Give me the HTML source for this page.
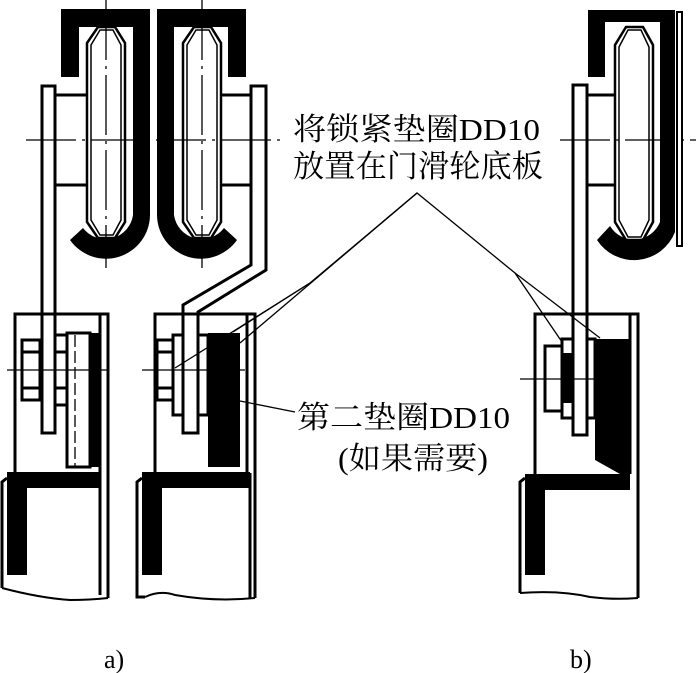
<!DOCTYPE html>
<html><head><meta charset="utf-8"><style>
html,body{margin:0;padding:0;background:#fff;}
svg{display:block;}
text{font-family:"Liberation Serif","Noto Serif CJK SC",serif;fill:#000;}
</style></head><body>
<svg width="696" height="673" viewBox="0 0 696 673" xmlns="http://www.w3.org/2000/svg">
<g fill="none" stroke="#000" stroke-width="3">
<!-- ===== Figure a) ===== -->
<path d="M61,9 H150 V215 A44,44 0 0 1 70,240 L83,228 A28,28 0 0 0 133,215 V27 H79 V77 H61 Z" fill="#000" stroke="none"/>
<path d="M157,9 H246 V77 H228 V27 H174 V215 A28,28 0 0 0 224,228 L237,240 A44,44 0 0 1 157,215 Z" fill="#000" stroke="none"/>
<path d="M87,43 L98,27 H115 L125,43 V222 L115,238 H98 L87,222 Z" stroke-width="2.5"/>
<path d="M91,45 L100,30 H113 L121,45 V220 L113,235 H100 L91,220 Z" stroke-width="1.5"/>
<path d="M183,43 L194,27 H211 L221,43 V222 L211,238 H194 L183,222 Z" stroke-width="2.5"/>
<path d="M187,45 L196,30 H209 L217,45 V220 L209,235 H196 L187,220 Z" stroke-width="1.5"/>
<rect x="42" y="86" width="13" height="347"/>
<path d="M251,86 H266 V270 L198,312 V433 H183 V305 L251,265 Z"/>
<line x1="55" y1="95" x2="87" y2="95"/><line x1="55" y1="185" x2="87" y2="185"/>
<line x1="221" y1="95" x2="251" y2="95"/><line x1="221" y1="185" x2="251" y2="185"/>
<path d="M15,473 V314 H108 V598"/><line x1="100" y1="314" x2="100" y2="595"/>
<rect x="67" y="333" width="23" height="134"/>
<rect x="90" y="333" width="10" height="134" fill="#000" stroke="none"/>
<rect x="22" y="340" width="18" height="60"/>
<line x1="22" y1="352" x2="40" y2="352"/><line x1="22" y1="388" x2="40" y2="388"/>
<rect x="55" y="335" width="12" height="70"/>
<line x1="55" y1="352" x2="67" y2="352"/><line x1="55" y1="388" x2="67" y2="388"/>
<path d="M7,472 H100 V488 H27 V575 H7 Z" fill="#000" stroke="none"/>
<path d="M7,478 L2,482 V588"/><path d="M2,588 Q40,598 70,600 Q90,600 108,598" stroke-width="2"/>
<path d="M155,473 V314 H255 V598"/><line x1="247" y1="314" x2="247" y2="473"/>
<rect x="208" y="333" width="32" height="134" fill="#000" stroke="none"/>
<rect x="157" y="340" width="16" height="60"/>
<line x1="157" y1="352" x2="173" y2="352"/><line x1="157" y1="388" x2="173" y2="388"/>
<rect x="173" y="335" width="10" height="80"/>
<rect x="198" y="335" width="10" height="80"/>
<path d="M142,472 H250 V488 H162 V575 H142 Z" fill="#000" stroke="none"/>
<path d="M142,478 L137,482 V597 H145"/><path d="M145,597 Q160,590 175,595 Q215,602 255,598" stroke-width="2"/>
<line x1="250" y1="473" x2="250" y2="598"/>
<!-- ===== Figure b) ===== -->
<path d="M588,10 H675 V232 A44,44 0 0 1 597,240 L610,226 A28,28 0 0 0 660,222 V22 H605 V77 H588 Z" fill="#000" stroke="none"/>
<rect x="677" y="12" width="5" height="234" stroke-width="2"/>
<path d="M615,45 L626,27 H643 L653,45 V222 L643,240 H626 L615,222 Z" stroke-width="2.5"/>
<path d="M619,47 L628,30 H641 L649,47 V220 L641,237 H628 L619,220 Z" stroke-width="1.5"/>
<rect x="573" y="85" width="14" height="350"/>
<line x1="587" y1="95" x2="615" y2="95"/><line x1="587" y1="185" x2="615" y2="185"/>
<path d="M535,474 V314 H638 V598"/><line x1="630" y1="314" x2="630" y2="474"/>
<path d="M595,339 H630 V474 H620 L595,460 Z" fill="#000" stroke="none"/>
<rect x="545" y="346" width="17" height="65"/>
<rect x="562" y="339" width="11" height="79"/>
<rect x="587" y="339" width="8" height="79"/>
<rect x="563" y="353" width="9" height="50" fill="#000" stroke="none"/>
<path d="M525,474 H630 V490 H545 V575 H525 Z" fill="#000" stroke="none"/>
<path d="M525,478 L520,482 V593"/><path d="M520,593 Q560,590 590,597 Q615,600 638,598" stroke-width="2"/>
</g>
<g stroke="#000" stroke-width="1.3" fill="none">
<line x1="106" y1="0" x2="106" y2="268" stroke-dasharray="60,6,3,6"/>
<line x1="202" y1="0" x2="202" y2="268" stroke-dasharray="60,6,3,6"/>
<line x1="26" y1="140" x2="280" y2="140" stroke-dasharray="50,6,3,6"/>
<line x1="7" y1="370" x2="108" y2="370"/>
<line x1="142" y1="370" x2="245" y2="370"/>
<line x1="560" y1="140" x2="696" y2="140" stroke-dasharray="50,6,3,6"/>
<line x1="520" y1="379" x2="600" y2="379"/>
<line x1="75" y1="335" x2="75" y2="467" stroke-dasharray="12,4"/>
<polyline points="175,368 310,283 417,193 515,273 562,342"/>
<line x1="310" y1="283" x2="233" y2="332"/>
<line x1="417" y1="193" x2="240" y2="343"/>
<line x1="515" y1="273" x2="600" y2="338"/>
<line x1="240" y1="401" x2="295" y2="412"/>
</g>
<g font-size="31">
<text x="293" y="140" textLength="247" lengthAdjust="spacingAndGlyphs">将锁紧垫圈DD10</text>
<text x="293" y="177" textLength="250" lengthAdjust="spacingAndGlyphs">放置在门滑轮底板</text>
<text x="297" y="428" textLength="213" lengthAdjust="spacingAndGlyphs">第二垫圈DD10</text>
<text x="338" y="469" textLength="150" lengthAdjust="spacingAndGlyphs">(如果需要)</text>
<text x="104" y="668" font-size="26">a)</text>
<text x="570" y="668" font-size="26">b)</text>
</g>
</svg>
</body></html>
